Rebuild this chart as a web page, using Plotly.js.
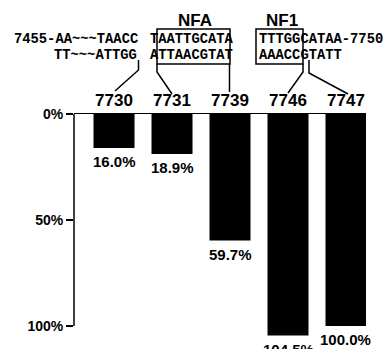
<!DOCTYPE html>
<html>
<head>
<meta charset="utf-8">
<script src="https://cdn.plot.ly/plotly-3.0.1.min.js"></script>
<style>html,body{margin:0;padding:0;background:#fff;}#chart{width:383px;height:349px;}</style>
</head>
<body>
<div id="chart"></div>
<script>
// ---- data ----
var positions = ['7730', '7731', '7739', '7746', '7747'];
var percentValues = [16.0, 18.9, 59.7, 104.5, 100.0];
var yTickValues = [0, 50, 100];
var yTickLabels = ['0%', '50%', '100%'];
var topStrandSegments = ['7455-AA~~~TAACC', 'TAATTGCATA', 'TTTGGCATAA-7750'];
var bottomStrandSegments = ['TT~~~ATTGG', 'ATTAACGTAT', 'AAACCGTATT'];
var siteNames = ['NFA', 'NF1'];

// ---- layout helpers (pixel -> paper) ----
var W = 383, H = 349;
function px(x) { return x / W; }
function py(y) { return 1 - y / H; }

var sans = 'Liberation Sans, Arial, sans-serif';
var seqFont = {family: 'Liberation Mono, DejaVu Sans Mono, monospace', size: 13.8, color: '#000'};
var topX = [13, 149, 258];
var botX = [53, 149, 258];

var annotations = [];
topStrandSegments.forEach(function (s, i) {
  annotations.push({xref: 'paper', yref: 'paper', x: px(topX[i]), y: py(39), xanchor: 'left', yanchor: 'middle',
    text: '<b>' + s + '</b>', showarrow: false, font: seqFont, borderpad: 0});
});
bottomStrandSegments.forEach(function (s, i) {
  annotations.push({xref: 'paper', yref: 'paper', x: px(botX[i]), y: py(55), xanchor: 'left', yanchor: 'middle',
    text: '<b>' + s + '</b>', showarrow: false, font: seqFont, borderpad: 0});
});
var siteX = [194.5, 281.5];
siteNames.forEach(function (s, i) {
  annotations.push({xref: 'paper', yref: 'paper', x: px(siteX[i]), y: py(21), xanchor: 'center', yanchor: 'middle',
    text: '<b>' + s + '</b>', showarrow: false, font: {family: sans, size: 17, color: '#000'}});
});
// value labels below each bar, placed through the axes (category index on x)
positions.forEach(function (p, i) {
  annotations.push({xref: 'x', yref: 'y', x: i, y: percentValues[i], xanchor: 'center', yanchor: 'top',
    yshift: -4, showarrow: false, text: '<b>' + percentValues[i].toFixed(1) + '%</b>',
    font: {family: sans, size: 15, color: '#000'}, borderpad: 0});
});

function path(points) {
  return points.map(function (p, i) { return (i ? 'L' : 'M') + ' ' + p[0] + ' ' + p[1]; }).join(' ');
}
var lineStyle = {color: '#000', width: 1.5};
var shapes = [];
// boxes around binding sites
[[157, 230], [256, 303]].forEach(function (b) {
  shapes.push({type: 'rect', xref: 'paper', yref: 'paper', x0: px(b[0]), x1: px(b[1]), y0: py(29), y1: py(64), line: lineStyle});
});
// connector lines from sequence to bar labels
var connectors = [
  [[138.5, 60], [138.5, 70], [115, 91]],
  [[157, 64], [157, 72], [172, 94]],
  [[229.5, 64], [229.5, 92]],
  [[303, 64], [303, 72], [288, 93]],
  [[309, 60], [309, 73], [348, 94]]
];
connectors.forEach(function (c) {
  shapes.push({type: 'path', xref: 'paper', yref: 'paper',
    path: path(c.map(function (p) { return [px(p[0]), py(p[1])]; })), line: lineStyle});
});
// y-axis line from 0% to 100%
shapes.push({type: 'line', xref: 'paper', yref: 'y', x0: px(74), x1: px(74), y0: 0, y1: 100, line: lineStyle});

var trace = {
  type: 'bar',
  x: positions,
  y: percentValues,
  width: 0.707,
  marker: {color: '#000', line: {width: 0}},
  hoverinfo: 'none'
};

var layout = {
  width: W, height: H,
  margin: {l: 0, r: 0, t: 0, b: 0},
  paper_bgcolor: '#fff', plot_bgcolor: '#fff',
  showlegend: false,
  xaxis: {
    type: 'category', domain: [px(74), px(366)], range: [-0.69, 4.345],
    side: 'top', showline: true, linecolor: '#000', linewidth: 1.5,
    ticks: '', showgrid: false, zeroline: false, fixedrange: true,
    tickprefix: '<b>', ticksuffix: '</b>',
    tickfont: {family: sans, size: 17, color: '#000'}
  },
  yaxis: {
    domain: [0, py(114)], range: [110.85, 0], showline: false,
    tickvals: yTickValues, ticktext: yTickLabels.map(function (t) { return '<b>' + t + '</b>'; }),
    ticks: 'outside', ticklen: 7, tickwidth: 1.5, tickcolor: '#000',
    showgrid: false, zeroline: false, fixedrange: true,
    tickfont: {family: sans, size: 14, color: '#000'}
  },
  annotations: annotations,
  shapes: shapes
};

Plotly.newPlot('chart', [trace], layout, {staticPlot: true, displayModeBar: false});
</script>
</body>
</html>
